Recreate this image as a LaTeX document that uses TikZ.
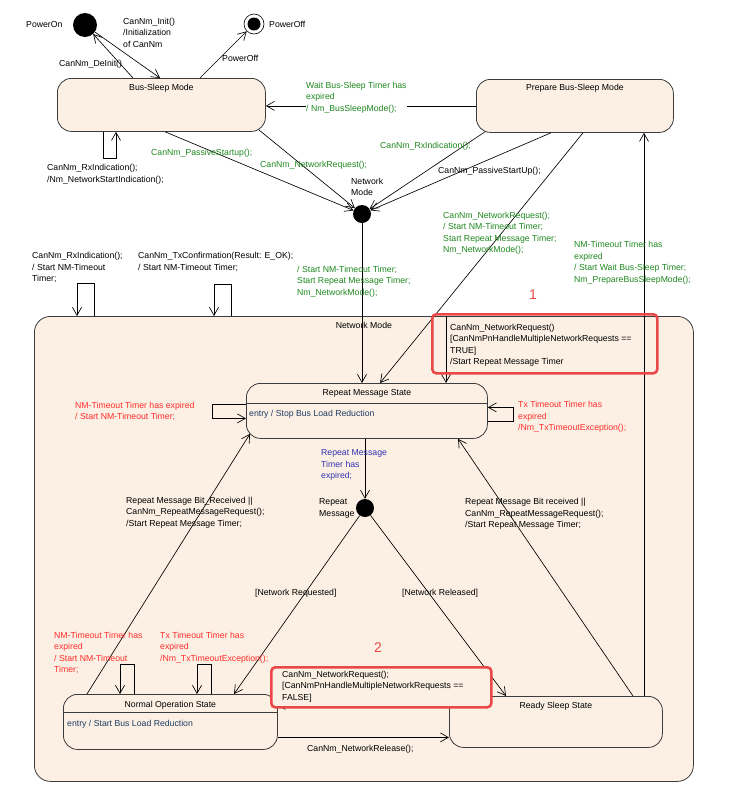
\documentclass[tikz,border=0pt]{standalone}
\usepackage{fontspec}
\setmainfont{Liberation Sans}
\usetikzlibrary{arrows.meta,calc}
\definecolor{beige}{RGB}{251,240,227}
\definecolor{tgreen}{RGB}{30,135,30}
\definecolor{tred}{RGB}{255,45,45}
\definecolor{tblue}{RGB}{50,50,180}
\definecolor{bred}{RGB}{234,72,72}
\definecolor{tentry}{RGB}{31,60,100}
\definecolor{bord}{RGB}{60,60,60}
\begin{document}
\begin{tikzpicture}[x=1pt,y=-1pt,
  font=\fontsize{8.7}{11.5}\selectfont,
  stbox/.style={draw=bord, line width=0.8pt, fill=beige, rounded corners=14pt, rectangle, inner sep=0pt, anchor=north west},
  ttl/.style={anchor=north, inner sep=0pt},
  lbl/.style={anchor=north west, inner sep=0pt, align=left},
  arr/.style={draw=black, line width=0.65pt, -{Straight Barb[length=8pt,width=9pt,line width=0.65pt]}},
  ln/.style={draw=bord, line width=0.7pt},
  pseudo/.style={circle, fill=black, inner sep=0pt},
  redbox/.style={draw=bred, line width=2.6pt, rounded corners=4pt, rectangle, inner sep=0pt, anchor=north west},
  bignum/.style={text=bred, font=\fontsize{14}{16}\selectfont, inner sep=0pt}
]
\useasboundingbox (0,0) rectangle (735,793);

% ---------- states ----------
\node[stbox, minimum width=659pt, minimum height=465pt, rounded corners=16pt] (nm) at (34,316) {};
\node[ttl] (nmT) at ([yshift=-5.7pt]nm.north) {Network Mode};

\node[stbox, minimum width=208pt, minimum height=53pt] (bs) at (57,78) {};
\node[ttl] (bsT) at ([yshift=-5.7pt]bs.north) {Bus-Sleep Mode};

\node[stbox, minimum width=197pt, minimum height=53pt] (pbs) at (476,79) {};
\node[ttl] (pbsT) at ([yshift=-4.7pt]pbs.north) {Prepare Bus-Sleep Mode};

\node[stbox, minimum width=241pt, minimum height=55pt] (rms) at (246,383) {};
\node[ttl] (rmsT) at ([yshift=-6.4pt]rms.north) {Repeat Message State};
\draw[ln] ([yshift=-20pt]rms.north west) -- ([yshift=-20pt]rms.north east);
\node[lbl, text=tentry] (rmsE) at (249,410) {entry / Stop Bus Load Reduction};

\node[stbox, minimum width=214pt, minimum height=55pt] (nos) at (63,694) {};
\node[ttl] (nosT) at ([yshift=-6.7pt]nos.north) {Normal Operation State};
\draw[ln] ([yshift=-18pt]nos.north west) -- ([yshift=-18pt]nos.north east);
\node[lbl, text=tentry] (nosE) at (67,720) {entry / Start Bus Load Reduction};

\node[stbox, minimum width=213pt, minimum height=51pt] (rss) at (449,696) {};
\node[ttl] (rssT) at ([yshift=-5.7pt]rss.north) {Ready Sleep State};

% ---------- pseudo states ----------
\node[pseudo, minimum size=24pt] (pon) at (85,25) {};
\node[lbl] (ponL) at (26,21.5) {PowerOn};
\node[circle, draw=black, fill=white, line width=0.6pt, minimum size=20pt, inner sep=0pt] (poff) at (254,24) {};
\node[pseudo, minimum size=13pt] (poffc) at (poff.center) {};
\node[lbl] (poffL) at (269,21) {PowerOff};

\node[pseudo, minimum size=18pt] (jnm) at (362,214) {};
\node[lbl] (jnmL) at (351,177.7) {Network\\Mode};
\node[pseudo, minimum size=18pt] (jrm) at (365,508) {};
\node[lbl] (jrmL) at (319,498.4) {Repeat\\Message};

% ---------- top transitions ----------
\draw[arr] (pon) -- ([xshift=103pt]bs.north west);
\node[lbl] (t1) at (123,17.7) {CanNm\_Init()\\/Initialization\\of CanNm};
\draw[arr] ([xshift=76pt]bs.north west) -- (pon);
\node[lbl] (t2) at (59,59.7) {CanNm\_DeInit()};
\draw[arr] ([xshift=143pt]bs.north west) -- (poff);
\node[lbl] (t3) at (222,54.7) {PowerOff};

\draw[arr] ([xshift=46pt]bs.south west) -- ++(0,27) -| ([xshift=59pt]bs.south west);
\node[lbl] (t4) at (47,164) {CanNm\_RxIndication();\\/Nm\_NetworkStartIndication();};

\draw[arr] (pbs.west) -- (pbs.west -| bs.east);
\node[lbl, text=tgreen, fill=white] (t5) at (306,81.7) {Wait Bus-Sleep Timer has\\expired\\/ Nm\_BusSleepMode();};

\draw[arr] ([xshift=108pt]bs.south west) -- (jnm);
\node[lbl, text=tgreen] (t6) at (151,148.7) {CanNm\_PassiveStartup();};
\draw[arr] ([xshift=-7pt,yshift=2pt]bs.south east) -- (jnm);
\node[lbl, text=tgreen] (t7) at (260,160.7) {CanNm\_NetworkRequest();};

\draw[arr] ([xshift=9pt,yshift=1pt]pbs.south west) -- (jnm);
\node[lbl, text=tgreen] (t8) at (380,142.4) {CanNm\_RxIndication();};
\draw[arr] ([xshift=75pt]pbs.south west) -- (jnm);
\node[lbl] (t9) at (438,166.7) {CanNm\_PassiveStartUp();};

\draw[arr] ([xshift=107pt]pbs.south west) -- ([xshift=134pt]rms.north west);
\node[lbl, text=tgreen] (t10) at (443,211.7) {CanNm\_NetworkRequest();\\/ Start NM-Timeout Timer;\\Start Repeat Message Timer;\\Nm\_NetworkMode();};

\draw[arr] (jnm) -- (jnm |- rms.north);
\node[lbl, text=tgreen] (t11) at (297,265.7) {/ Start NM-Timeout Timer;\\Start Repeat Message Timer;\\Nm\_NetworkMode();};

\coordinate (c3) at ([xshift=195pt]rss.north west);
\draw[arr] (c3) -- (c3 |- pbs.south);
\node[lbl, text=tgreen] (t12) at (574,241) {NM-Timeout Timer has\\expired\\/ Start Wait Bus-Sleep Timer;\\Nm\_PrepareBusSleepMode();};

% ---------- Network Mode self loops ----------
\draw[arr] ([xshift=60pt]nm.north west) -- ++(0,-33) -| ([xshift=43pt]nm.north west);
\node[lbl] (t13) at (32,252.4) {CanNm\_RxIndication();\\/ Start NM-Timeout\\Timer;};
\draw[arr] ([xshift=197pt]nm.north west) -- ++(0,-32) -| ([xshift=180pt]nm.north west);
\node[lbl] (t14) at (138,252.4) {CanNm\_TxConfirmation(Result: E\_OK);\\/ Start NM-Timeout Timer;};

% ---------- annotation 1 ----------
\coordinate (c1) at ([xshift=412pt]nm.north west);
\draw[arr] (c1) -- (c1 |- rms.north);
\node[redbox, minimum width=225pt, minimum height=59pt] (rb1) at (431,313) {};
\node[lbl] (t15) at (450,323.7) {CanNm\_NetworkRequest()\\{}[CanNmPnHandleMultipleNetworkRequests ==\\TRUE]\\/Start Repeat Message Timer};
\node[bignum] (n1) at (533,295) {1};

% ---------- Repeat Message State loops ----------
\draw[arr] ([yshift=6.5pt]rms.west) -- ++(-34,0) |- ([yshift=-7.5pt]rms.west);
\node[lbl, text=tred] (t16) at (75,401.7) {NM-Timeout Timer has expired\\/ Start NM-Timeout Timer;};
\draw[arr] ([yshift=-10.5pt]rms.east) -- ++(26,0) |- ([yshift=3.5pt]rms.east);
\node[lbl, text=tred] (t17) at (518,401) {Tx Timeout Timer has\\expired\\/Nm\_TxTimeoutException();};

\draw[arr] (jrm |- rms.south) -- (jrm);
\node[lbl, text=tblue] (t18) at (321,449.4) {Repeat Message\\Timer has\\expired;};

\draw[arr] (jrm) -- ([xshift=171pt]nos.north west);
\node[lbl] (t19) at (255,589.4) {[Network Requested]};
\draw[arr] (jrm) -- ([xshift=57pt]rss.north west);
\node[lbl] (t20) at (402,589.4) {[Network Released]};

\draw[arr] ([xshift=24pt]nos.north west) -- ([xshift=4pt,yshift=5pt]rms.south west);
\node[lbl] (t21) at (126,496.7) {Repeat Message Bit\_Received ||\\CanNm\_RepeatMessageRequest();\\/Start Repeat Message Timer;};
\draw[arr] ([xshift=184pt]rss.north west) -- ([xshift=212pt]rms.south west);
\node[lbl] (t22) at (465,498.4) {Repeat Message Bit received ||\\CanNm\_RepeatMessageRequest();\\/Start Repeat Message Timer;};

% ---------- Normal Operation loops ----------
\draw[arr] ([xshift=71pt]nos.north west) -- ++(0,-30) -| ([xshift=57pt]nos.north west);
\node[lbl, text=tred] (t23) at (54,631.7) {NM-Timeout Timer has\\expired\\/ Start NM-Timeout\\Timer;};
\draw[arr] ([xshift=148pt]nos.north west) -- ++(0,-30) -| ([xshift=134pt]nos.north west);
\node[lbl, text=tred] (t24) at (160,631.7) {Tx Timeout Timer has\\expired\\/Nm\_TxTimeoutException();};

\coordinate (c2) at ([yshift=-15.5pt]nos.east);
\draw[arr] (c2) -- (c2 -| rss.west);
\node[lbl] (t25) at (307,745) {CanNm\_NetworkRelease();};

% ---------- annotation 2 ----------
\draw[arr] ([yshift=17pt]rss.west) -- ([xshift=-1pt,yshift=17pt]nos.east);
\node[redbox, fill=beige, minimum width=220pt, minimum height=40pt] (rb2) at (270,666) {};
\node[lbl] (t26) at (282,670.7) {CanNm\_NetworkRequest();\\{}[CanNmPnHandleMultipleNetworkRequests ==\\FALSE]};
\node[bignum] (n2) at (378,648) {2};
\end{tikzpicture}
\end{document}
